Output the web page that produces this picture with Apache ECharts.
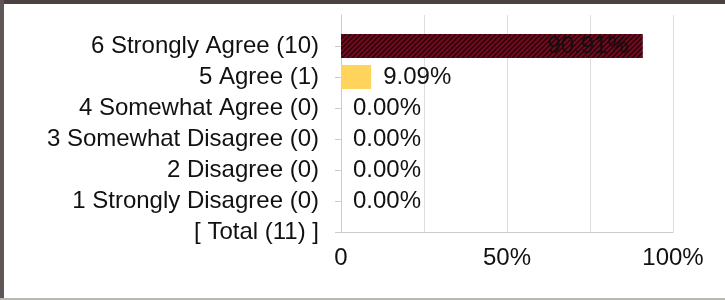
<!DOCTYPE html>
<html>
<head>
<meta charset="utf-8">
<script src="https://cdn.jsdelivr.net/npm/echarts@6/dist/echarts.min.js"></script>
<style>
  html, body { margin: 0; padding: 0; background: #fff; }
  #chart { width: 725px; height: 300px; }
</style>
</head>
<body>
<div id="chart"></div>
<script>
// answers, top to bottom (first slot left empty, as in the original)
const categories = ['', '6 Strongly Agree (10)', '5 Agree (1)', '4 Somewhat Agree (0)',
    '3 Somewhat Disagree (0)', '2 Disagree (0)', '1 Strongly Disagree (0)', '[ Total (11) ]'];
const percents = [null, 90.91, 9.09, 0, 0, 0, 0, null];
const xTicks = [0, 25, 50, 75, 100];
const xTickLabels = ['0', '', '50%', '', '100%'];

const FONT = '"Liberation Sans", Arial, sans-serif';

// hatched maroon for the top bar
const makeHatch = () => {
    const c = document.createElement('canvas');
    c.width = 5; c.height = 5;
    const g = c.getContext('2d');
    g.fillStyle = '#720b20';
    g.fillRect(0, 0, 5, 5);
    g.strokeStyle = 'rgba(20,0,4,0.85)';
    g.lineWidth = 1.3;
    g.beginPath();
    g.moveTo(-1, 6); g.lineTo(6, -1);
    g.moveTo(-1, 1); g.lineTo(1, -1);
    g.moveTo(4, 6); g.lineTo(6, 4);
    g.stroke();
    return c;
};

const barData = percents.map((v, i) => {
    if (v === null) return '-';
    if (i === 1) {
        return {
            value: v,
            itemStyle: { color: { image: makeHatch(), repeat: 'repeat' } },
            label: { position: 'insideRight', distance: 14 }
        };
    }
    return { value: v, itemStyle: { color: '#ffd35c' } };
});

const chart = echarts.init(document.getElementById('chart'));
chart.setOption({
    animation: false,
    grid: { left: 341, right: 52, top: 15, bottom: 68 },
    graphic: [
        { type: 'rect', shape: { x: 0, y: 0, width: 725, height: 4 }, style: { fill: '#4b4141' }, z: 100 },
        { type: 'rect', shape: { x: 0, y: 0, width: 4, height: 300 }, style: { fill: '#5f5656' }, z: 100 },
        { type: 'rect', shape: { x: 0, y: 298, width: 725, height: 2 }, style: { fill: '#b8b8b2' }, z: 100 }
    ],
    xAxis: {
        type: 'value',
        min: 0,
        max: 100,
        interval: 25,
        axisLine: { show: true, lineStyle: { color: '#cccccc' } },
        axisTick: { show: false },
        splitLine: { show: true, lineStyle: { color: '#dddddd' } },
        axisLabel: {
            margin: 14,
            color: '#111',
            fontSize: 24,
            fontFamily: FONT,
            formatter: (v) => xTickLabels[xTicks.indexOf(v)] || ''
        }
    },
    yAxis: {
        type: 'category',
        inverse: true,
        boundaryGap: false,
        data: categories,
        axisLine: { show: true, lineStyle: { color: '#cccccc' } },
        axisTick: { show: true, length: 6, interval: (i) => i !== 0, lineStyle: { color: '#cccccc' } },
        splitLine: { show: false },
        axisLabel: {
            margin: 22,
            interval: 0,
            color: '#111',
            fontSize: 24,
            fontFamily: FONT
        }
    },
    series: [{
        type: 'bar',
        data: barData,
        barWidth: 24,
        label: {
            show: true,
            position: 'right',
            distance: 12,
            color: '#111',
            fontSize: 24,
            fontFamily: FONT,
            formatter: (p) => Number(p.value).toFixed(2) + '%'
        }
    }]
});
</script>
</body>
</html>
